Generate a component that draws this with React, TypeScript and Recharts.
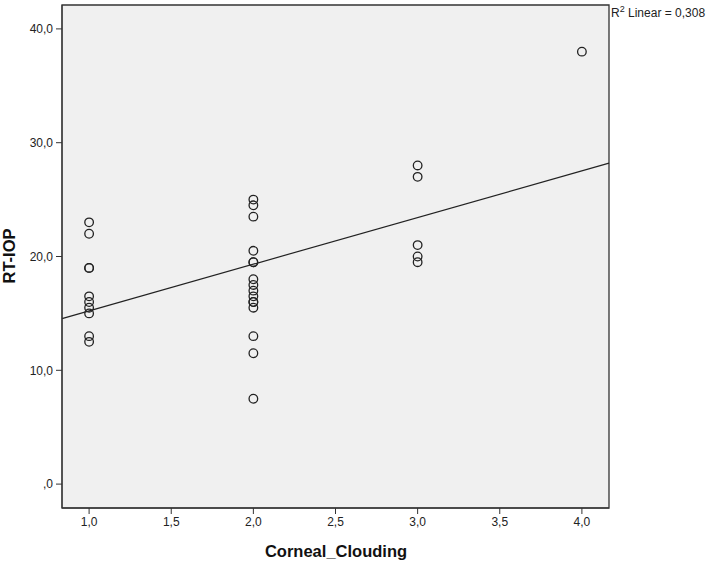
import React from "react";
import {
  ScatterChart,
  Scatter,
  XAxis,
  YAxis,
  ReferenceArea,
  ReferenceLine,
} from "recharts";

// RT-IOP readings grouped by corneal clouding grade
const grades = [1, 2, 3, 4];
const grade1Iop = [23, 22, 19, 19, 16.5, 16, 15.5, 15, 13, 12.5];
const grade2Iop = [25, 24.5, 23.5, 20.5, 19.5, 19.5, 18, 17.5, 17, 16.5, 16, 16, 15.5, 13, 11.5, 7.5];
const grade3Iop = [28, 27, 21, 20, 19.5];
const grade4Iop = [38];

const xTicks = [1, 1.5, 2, 2.5, 3, 3.5, 4];
const yTicks = [0, 10, 20, 30, 40];
const xDomain = [0.835, 4.165];
const yDomain = [-2.1, 42.1];
const r2Label = "0,308";

const points = [grade1Iop, grade2Iop, grade3Iop, grade4Iop].flatMap((vals, i) =>
  vals.map((v) => ({ x: grades[i], y: v }))
);

// least squares fit line
const n = points.length;
const mx = points.reduce((s, p) => s + p.x, 0) / n;
const my = points.reduce((s, p) => s + p.y, 0) / n;
const sxy = points.reduce((s, p) => s + (p.x - mx) * (p.y - my), 0);
const sxx = points.reduce((s, p) => s + (p.x - mx) ** 2, 0);
const slope = sxy / sxx;
const intercept = my - slope * mx;

const fmt = (v: number) => (v === 0 ? ",0" : v.toFixed(1).replace(".", ","));

const font = "Arial, 'Liberation Sans', sans-serif";
const tickStyle = { fontSize: 12, fill: "#222", fontFamily: font };
const titleStyle = { fontSize: 16.5, fontWeight: "bold", fill: "#111", fontFamily: font };

const Ring = (props: any) => (
  <circle cx={props.cx} cy={props.cy} r={4.3} fill="none" stroke="#222" strokeWidth={1.3} />
);

const App = () => {
  return (
    <div style={{ position: "absolute", left: 0, top: 0, width: 710, height: 564, background: "#fff" }}>
      <ScatterChart width={710} height={564} margin={{ top: 5, right: 101, bottom: 0, left: 0 }}>
        <ReferenceArea
          x1={xDomain[0]}
          x2={xDomain[1]}
          y1={yDomain[0]}
          y2={yDomain[1]}
          fill="#f0f0f0"
          fillOpacity={1}
          stroke="#333"
          strokeWidth={1.3}
        />
        <XAxis
          type="number"
          dataKey="x"
          domain={xDomain}
          ticks={xTicks}
          tickFormatter={fmt}
          height={56}
          tickSize={6}
          tickMargin={3}
          stroke="#333"
          tick={tickStyle}
          allowDataOverflow
          label={{
            content: () => (
              <text x={336} y={557} textAnchor="middle" style={titleStyle}>
                Corneal_Clouding
              </text>
            ),
          }}
        />
        <YAxis
          type="number"
          dataKey="y"
          domain={yDomain}
          ticks={yTicks}
          tickFormatter={fmt}
          width={62}
          tickSize={6}
          tickMargin={3}
          stroke="#333"
          tick={tickStyle}
          allowDataOverflow
          label={{
            content: () => (
              <text
                x={15}
                y={256}
                transform="rotate(-90 15 256)"
                textAnchor="middle"
                style={titleStyle}
              >
                RT-IOP
              </text>
            ),
          }}
        />
        <ReferenceLine
          segment={[
            { x: xDomain[0], y: intercept + slope * xDomain[0] },
            { x: xDomain[1], y: intercept + slope * xDomain[1] },
          ]}
          stroke="#222"
          strokeWidth={1.2}
        />
        <Scatter data={points} shape={Ring} isAnimationActive={false} />
      </ScatterChart>
      <div
        style={{
          position: "absolute",
          left: 611,
          top: 4,
          fontSize: 12,
          fontFamily: font,
          color: "#222",
          whiteSpace: "nowrap",
        }}
      >
        R<sup style={{ fontSize: 9 }}>2</sup> Linear = {r2Label}
      </div>
    </div>
  );
};

export default App;
